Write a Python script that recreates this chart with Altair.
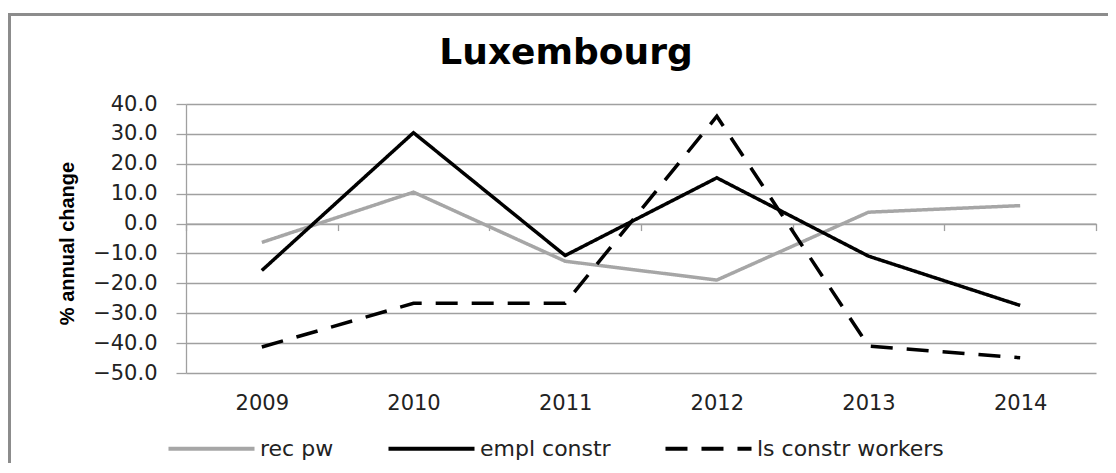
import altair as alt
import pandas as pd

years = [2009, 2010, 2011, 2012, 2013, 2014]
rec_pw = [-6.3, 10.5, -12.6, -18.9, 3.8, 6.0]
empl_constr = [-15.7, 30.4, -10.7, 15.3, -10.9, -27.4]
ls_constr_workers = [-41.3, -26.7, -26.7, 35.9, -41.0, -44.9]
series_names = ["rec pw", "empl constr", "ls constr workers"]
y_ticks = [-50, -40, -30, -20, -10, 0, 10, 20, 30, 40]
boundaries = [2008.5, 2009.5, 2010.5, 2011.5, 2012.5, 2013.5, 2014.5]

rows = []
for name, vals in zip(series_names, [rec_pw, empl_constr, ls_constr_workers]):
    for yr, v in zip(years, vals):
        rows.append({"year": yr, "value": v, "series": name})
df = pd.DataFrame(rows)

GRID = "#a0a0a0"
FONT = "DejaVu Sans"
xscale = alt.Scale(domain=[2008.5, 2014.5], nice=False, zero=False)
yscale = alt.Scale(domain=[-50, 40], nice=False, zero=False)

legend = alt.Legend(
    title=None, orient="none", legendX=-20, legendY=299, direction="horizontal",
    symbolType="stroke", symbolSize=7400, symbolStrokeWidth=4,
    labelFont=FONT, labelFontSize=22, labelColor="#222222", labelOffset=3,
    labelLimit=500, columnPadding=46, padding=0,
)

lines = alt.Chart(df).mark_line(strokeWidth=3.5).encode(
    x=alt.X("year:Q", scale=xscale, axis=alt.Axis(
        values=years, format="d", orient="bottom", ticks=False, domain=False, grid=False,
        labelFont=FONT, labelFontSize=21, labelColor="#222222", labelPadding=19,
        labelFlush=False, title=None)),
    y=alt.Y("value:Q", scale=yscale, axis=alt.Axis(
        values=y_ticks, format=".1f", grid=True, gridColor=GRID, gridWidth=1.3,
        domain=True, domainColor=GRID, domainWidth=1.3, ticks=True, tickColor=GRID,
        tickWidth=1.3, tickSize=10, labelPadding=19, labelFont=FONT, labelFontSize=21,
        labelColor="#222222", title="% annual change", titleFont="Liberation Sans",
        titleFontSize=20, titleFontWeight="bold", titleColor="#000000", titleAngle=270,
        titleAlign="center", titleBaseline="middle", titleX=-119, titleY=139)),
    color=alt.Color("series:N", scale=alt.Scale(domain=series_names,
                    range=["#a6a6a6", "#000000", "#000000"]), legend=legend),
    strokeDash=alt.StrokeDash("series:N", scale=alt.Scale(domain=series_names,
                              range=[[1, 0], [1, 0], [22, 14]]), legend=legend),
)

zero_axis = alt.Chart(pd.DataFrame({"b": boundaries})).mark_point(opacity=0).encode(
    x=alt.X("b:Q", scale=xscale, axis=alt.Axis(
        values=boundaries, orient="bottom", labels=False, ticks=True, tickSize=7,
        tickColor=GRID, tickWidth=1.3, domain=True, domainColor=GRID, domainWidth=1.3,
        grid=False, offset=-149.44, title=None)),
)

border = alt.Chart(alt.Data(values=[{}])).mark_rect(
    filled=False, stroke="#8c8c8c", strokeWidth=3
).encode(x=alt.value(-176.5), x2=alt.value(1300), y=alt.value(-89.5), y2=alt.value(600))

chart = alt.layer(border, zero_axis, lines).resolve_axis(x="independent").properties(
    width=910, height=269, autosize="none",
    padding={"left": 178, "top": 96, "right": 12, "bottom": 90},
    title=alt.Title("Luxembourg", font=FONT, fontSize=36, fontWeight="bold",
                    color="#000000", anchor="middle", dx=-75, offset=-87,
                    baseline="alphabetic"),
).configure_view(stroke=None)

chart.save("out.html", embed_options={"renderer": "svg", "actions": False})
